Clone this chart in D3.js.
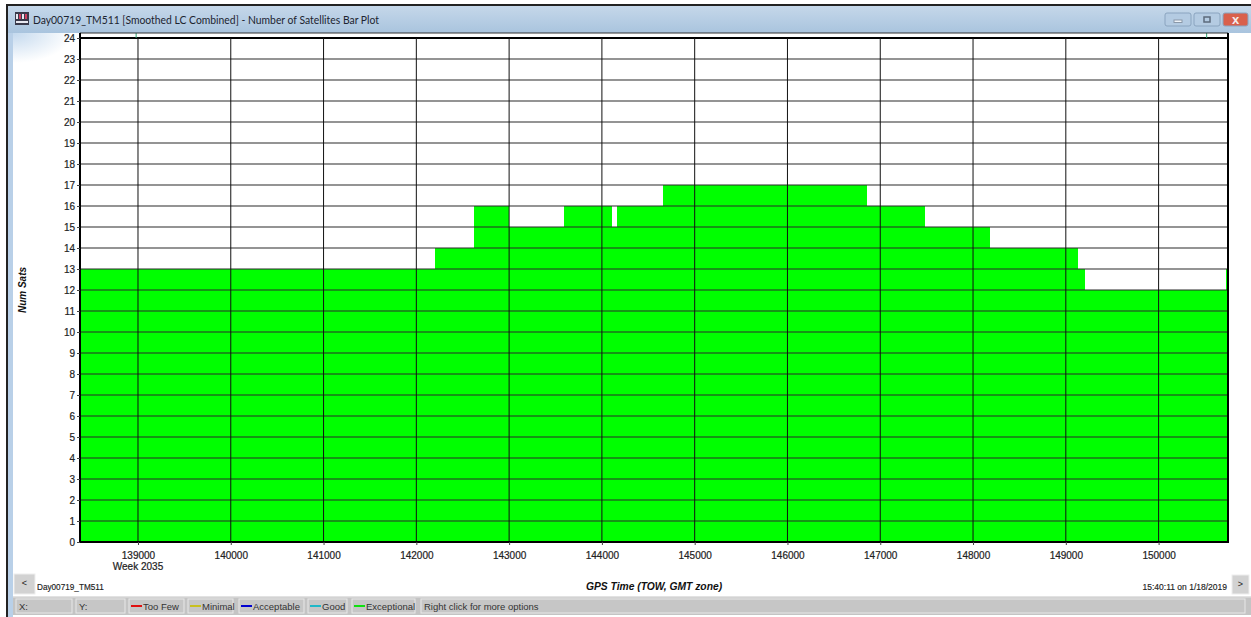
<!DOCTYPE html>
<html>
<head>
<meta charset="utf-8">
<title>Number of Satellites Bar Plot</title>
<script src="https://cdn.jsdelivr.net/npm/d3@7"></script>
<style>
  html, body { margin: 0; padding: 0; background: #fff; }
  svg { display: block; }
  text { font-family: "Liberation Sans", Arial, sans-serif; }
  .axis text { font-size: 10px; fill: #222; stroke: #222; stroke-width: 0.2px; }
  .axis path { display: none; }
  .axis line { stroke: #444; }
  .grid-h { stroke: #2b2b2b; stroke-width: 1.2; }
  .grid-v { stroke: #111; stroke-width: 1; }
  .step { shape-rendering: crispEdges; }
</style>
</head>
<body>
<div id="chart"></div>
<script>
// data
var stepStarts = [138375, 142204, 142618, 143000, 143595, 144112, 144163, 144659, 146857, 147482, 148183, 149135, 149207, 150727];
var stepEnds   = [142204, 142618, 143000, 143595, 144112, 144163, 144659, 146857, 147482, 148183, 149135, 149207, 150727, 150748];
var numSats    = [13, 14, 16, 15, 16, 15, 16, 17, 16, 15, 14, 13, 12, 13];
var xTicks = [139000, 140000, 141000, 142000, 143000, 144000, 145000, 146000, 147000, 148000, 149000, 150000];
var yTicks = [0, 1, 2, 3, 4, 5, 6, 7, 8, 9, 10, 11, 12, 13, 14, 15, 16, 17, 18, 19, 20, 21, 22, 23, 24];
var legendNames  = ["Too Few", "Minimal", "Acceptable", "Good", "Exceptional"];
var legendColors = ["#e01010", "#c8c020", "#0000d0", "#20b8c8", "#10e010"];
var legendLefts  = [129, 188, 239, 308, 352];
var legendRights = [184, 233, 304, 347, 415];

var width = 1251, height = 617;
var plot = { left: 80, right: 1228, top: 33, bottom: 542 };

var x = d3.scaleLinear().domain([138375, 150748]).range([plot.left, plot.right]);
var y = d3.scaleLinear().domain([0, 24]).range([plot.bottom, 38]);

var svg = d3.select("#chart").append("svg")
    .attr("width", width)
    .attr("height", height);

var defs = svg.append("defs");

var titleGrad = defs.append("linearGradient").attr("id", "titleGrad").attr("x1", 0).attr("x2", 0).attr("y1", 0).attr("y2", 1);
titleGrad.append("stop").attr("offset", "0%").attr("stop-color", "#c6d8ea");
titleGrad.append("stop").attr("offset", "100%").attr("stop-color", "#a9c4de");

// fades out to the right and downwards under the title bar
var sideGrad = defs.append("radialGradient").attr("id", "sideGrad").attr("cx", 0).attr("cy", 0).attr("r", 1);
sideGrad.append("stop").attr("offset", "0%").attr("stop-color", "#c4d9ee");
sideGrad.append("stop").attr("offset", "100%").attr("stop-color", "#ffffff");

// ---- window frame ----
svg.append("rect").attr("x", 6).attr("y", 4).attr("width", 1245).attr("height", 613).attr("fill", "#fff");
svg.append("rect").attr("x", 6).attr("y", 5).attr("width", 1245).attr("height", 28).attr("fill", "url(#titleGrad)");
svg.append("rect").attr("x", 6).attr("y", 4).attr("width", 1245).attr("height", 2).attr("fill", "#222");
svg.append("rect").attr("x", 6).attr("y", 5).attr("width", 2).attr("height", 612).attr("fill", "#222");
svg.append("rect").attr("x", 8).attr("y", 33).attr("width", 5).attr("height", 584).attr("fill", "#b9d0e8");
svg.append("rect").attr("x", 13).attr("y", 33).attr("width", 60).attr("height", 30).attr("fill", "url(#sideGrad)");

// app icon
var icon = svg.append("g").attr("transform", "translate(15,12)");
icon.append("rect").attr("width", 14).attr("height", 13).attr("fill", "#3a3a4a");
icon.selectAll("rect.px").data([1, 4, 7, 10]).enter().append("rect")
    .attr("class", "px")
    .attr("x", function(d) { return d; }).attr("y", 2)
    .attr("width", 2).attr("height", 5)
    .attr("fill", function(d, i) { return i % 2 ? "#d04060" : "#e8e8f0"; });
icon.append("rect").attr("x", 1).attr("y", 9).attr("width", 12).attr("height", 2).attr("fill", "#e8e8f0");

svg.append("text")
    .attr("x", 33).attr("y", 24)
    .style("font-family", "Lato, sans-serif")
    .style("font-size", "11.5px")
    .attr("fill", "#1c2430")
    .attr("textLength", 346)
    .attr("lengthAdjust", "spacingAndGlyphs")
    .text("Day00719_TM511 [Smoothed LC Combined] - Number of Satellites Bar Plot");

// window buttons
function winButton(bx, bw, fill, glyph) {
  svg.append("rect").attr("x", bx).attr("y", 13).attr("width", bw).attr("height", 13).attr("rx", 2)
      .attr("fill", fill).attr("stroke", "#8aa4bf");
  glyph(bx + bw / 2);
}
winButton(1165, 26, "#b4cbe2", function(c) {
  svg.append("rect").attr("x", c - 4).attr("y", 20).attr("width", 8).attr("height", 2.5).attr("fill", "#eef3f8").attr("stroke", "#8a98a8");
});
winButton(1194, 26, "#b4cbe2", function(c) {
  svg.append("rect").attr("x", c - 3).attr("y", 17).attr("width", 6).attr("height", 5).attr("fill", "none").attr("stroke", "#5c6b7c").attr("stroke-width", 1.5);
});
winButton(1223, 25, "#d9604c", function(c) {
  svg.append("text").attr("x", c).attr("y", 24).attr("text-anchor", "middle")
      .style("font-size", "13px").style("font-weight", "bold").attr("fill", "#f4ecec").text("x");
});

// ---- plot ----
var g = svg.append("g");

g.append("rect")
    .attr("x", plot.left).attr("y", plot.top)
    .attr("width", plot.right - plot.left).attr("height", plot.bottom - plot.top)
    .attr("fill", "#fff");

g.selectAll("rect.step")
    .data(numSats)
  .enter().append("rect")
    .attr("class", "step")
    .attr("x", function(d, i) { return x(stepStarts[i]); })
    .attr("y", function(d) { return y(d); })
    .attr("width", function(d, i) { return x(stepEnds[i]) - x(stepStarts[i]); })
    .attr("height", function(d) { return plot.bottom - y(d); })
    .attr("fill", "#00ff00");

g.selectAll("line.grid-h")
    .data(yTicks)
  .enter().append("line")
    .attr("class", "grid-h")
    .attr("x1", plot.left).attr("x2", plot.right)
    .attr("y1", function(d) { return y(d); })
    .attr("y2", function(d) { return y(d); })
    .style("stroke-width", function(d) { return d == 24 ? 2 : null; })
    .style("stroke", function(d) { return d == 24 ? "#000" : null; });

g.selectAll("line.grid-v")
    .data(xTicks)
  .enter().append("line")
    .attr("class", "grid-v")
    .attr("x1", function(d) { return x(d); })
    .attr("x2", function(d) { return x(d); })
    .attr("y1", 38)
    .attr("y2", plot.bottom);

// little green markers above the 24 line
g.selectAll("line.mark")
    .data([138980, 150518])
  .enter().append("line")
    .attr("class", "mark")
    .attr("x1", function(d) { return x(d); })
    .attr("x2", function(d) { return x(d); })
    .attr("y1", plot.top)
    .attr("y2", 38)
    .attr("stroke", "#2fa070");

// plot border
g.append("path")
    .attr("d", "M" + plot.left + "," + plot.top + "H" + plot.right)
    .attr("stroke", "#333").attr("fill", "none");
g.append("path")
    .attr("d", "M" + plot.left + "," + plot.top + "V" + plot.bottom + "H" + plot.right + "V" + plot.top)
    .attr("stroke", "#000").attr("stroke-width", 2).attr("fill", "none");

var yAxis = d3.axisLeft(y).tickValues(yTicks).tickSize(3).tickPadding(2).tickFormat(d3.format("d"));
svg.append("g").attr("class", "axis").attr("transform", "translate(" + plot.left + ",0)").call(yAxis);

var xAxis = d3.axisBottom(x).tickValues(xTicks).tickSize(3).tickPadding(7).tickFormat(d3.format("d"));
svg.append("g").attr("class", "axis").attr("transform", "translate(0," + plot.bottom + ")").call(xAxis);

svg.append("text")
    .attr("x", x(139000)).attr("y", 570)
    .attr("text-anchor", "middle")
    .style("font-size", "10px").attr("fill", "#222").attr("stroke", "#222").attr("stroke-width", 0.2)
    .text("Week 2035");

svg.append("text")
    .attr("transform", "translate(26,290) rotate(-90)")
    .attr("text-anchor", "middle")
    .style("font-size", "10px").style("font-weight", "bold").style("font-style", "italic")
    .attr("fill", "#111")
    .text("Num Sats");

svg.append("text")
    .attr("x", 654).attr("y", 590)
    .attr("text-anchor", "middle")
    .style("font-size", "10.3px").style("font-weight", "bold").style("font-style", "italic")
    .attr("fill", "#111")
    .text("GPS Time (TOW, GMT zone)");

// ---- scroll buttons and captions ----
function navButton(bx, bw, by, label) {
  svg.append("rect").attr("x", bx).attr("y", by).attr("width", bw).attr("height", 594 - by).attr("fill", "#d2d2d2").attr("stroke", "#eee");
  svg.append("text").attr("x", bx + bw / 2).attr("y", by + 12).attr("text-anchor", "middle")
      .style("font-size", "9px").attr("fill", "#222").text(label);
}
navButton(14, 21, 574, "<");
navButton(1232, 17, 575, ">");

svg.append("text").attr("x", 37).attr("y", 590)
    .style("font-size", "8.2px").attr("fill", "#222").attr("stroke", "#222").attr("stroke-width", 0.15)
    .text("Day00719_TM511");
svg.append("text").attr("x", 1227).attr("y", 590).attr("text-anchor", "end")
    .style("font-size", "8.5px").attr("fill", "#222").attr("stroke", "#222").attr("stroke-width", 0.15)
    .text("15:40:11 on 1/18/2019");

// ---- status bar ----
svg.append("rect").attr("x", 13).attr("y", 596).attr("width", 1238).attr("height", 19).attr("fill", "#c4c4c4");
svg.append("rect").attr("x", 13).attr("y", 596).attr("width", 1238).attr("height", 1.5).attr("fill", "#e2e2e2");

function statusBox(bx, bw) {
  svg.append("rect").attr("x", bx).attr("y", 599).attr("width", bw).attr("height", 14)
      .attr("fill", "#c6c6c6").attr("stroke", "#e8e8e8");
}
function statusText(tx, label) {
  svg.append("text").attr("x", tx).attr("y", 610)
      .style("font-size", "9.5px").attr("fill", "#333").text(label);
}
statusBox(16, 56); statusText(19, "X:");
statusBox(76, 49); statusText(79, "Y:");
statusBox(421, 824); statusText(424, "Right click for more options");

legendNames.forEach(function(name, i) {
  statusBox(legendLefts[i], legendRights[i] - legendLefts[i]);
  svg.append("line")
      .attr("x1", legendLefts[i] + 2).attr("x2", legendLefts[i] + 13)
      .attr("y1", 606).attr("y2", 606)
      .attr("stroke", legendColors[i]).attr("stroke-width", 2);
  statusText(legendLefts[i] + 14, name);
});
</script>
</body>
</html>
